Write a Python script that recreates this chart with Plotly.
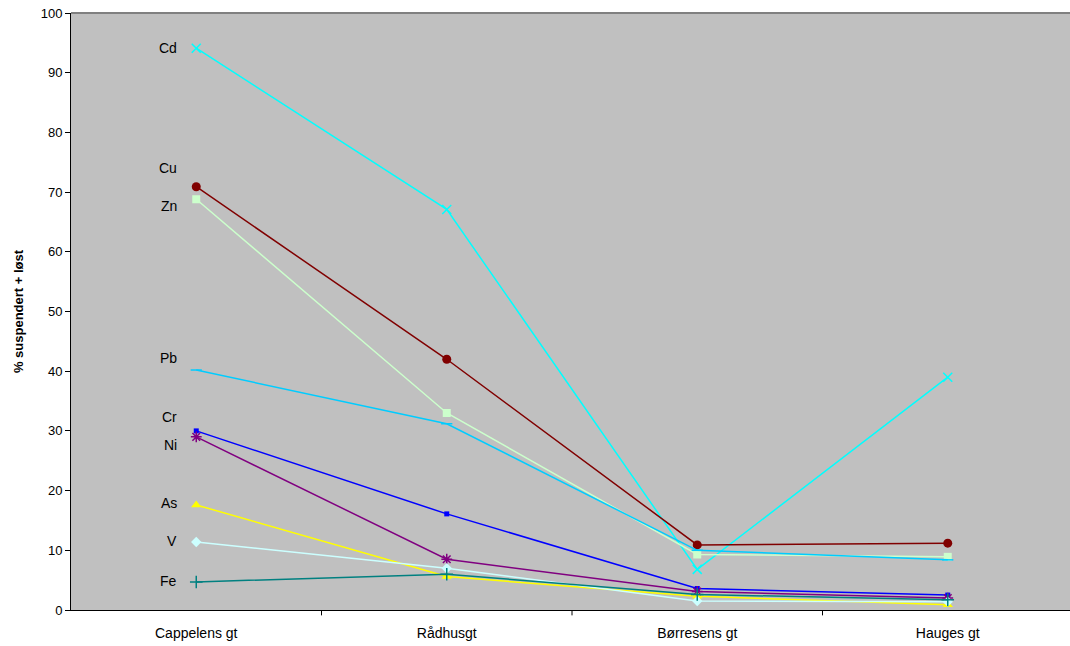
import plotly.graph_objects as go

categories = ["Cappelens gt", "Rådhusgt", "Børresens gt", "Hauges gt"]

cd = [94.1, 67.1, 6.8, 39.0]
cu = [70.9, 42.0, 10.9, 11.2]
zn = [68.8, 33.0, 9.3, 8.9]
pb = [40.2, 31.2, 10.0, 8.4]
cr = [30.0, 16.1, 3.6, 2.5]
ni = [29.0, 8.5, 3.1, 2.0]
as_ = [17.6, 5.6, 2.3, 0.9]
v = [11.4, 7.0, 1.5, 1.4]
fe = [4.7, 6.0, 2.6, 1.7]

series_names = ["Cd", "Cu", "Zn", "Pb", "Cr", "Ni", "As", "V", "Fe"]
series_values = [cd, cu, zn, pb, cr, ni, as_, v, fe]
label_y = [94.1, 74.0, 67.7, 42.2, 32.3, 27.6, 17.9, 11.6, 4.9]

colors = ["#00FFFF", "#800000", "#CCFFCC", "#00CCFF", "#0000FF",
          "#800080", "#FFFF00", "#CCFFFF", "#008080"]
symbols = ["x-thin", "circle", "square", "line-ew", "square",
           "asterisk", "triangle-up", "diamond", "cross-thin"]
sizes = [9, 9, 8, 8, 5, 9, 9, 8, 9]

fig = go.Figure()
for name, vals, col, sym, sz in zip(series_names, series_values, colors, symbols, sizes):
    open_sym = sym in ("x-thin", "asterisk", "cross-thin", "line-ew")
    fig.add_trace(go.Scatter(
        x=list(range(len(categories))), y=vals, mode="lines+markers", name=name,
        line=dict(color=col, width=1.5),
        marker=dict(symbol=sym, size=sz, color=col,
                    line=dict(color=col, width=1.5 if open_sym else 0)),
        showlegend=False,
    ))

for name, ly in zip(series_names, label_y):
    fig.add_annotation(x=-0.07, y=ly, xref="x", yref="y", text=name,
                       showarrow=False, xanchor="right", yanchor="middle",
                       font=dict(family="Liberation Sans, Arial", size=14, color="black"))

fig.update_layout(
    width=1073, height=646,
    margin=dict(l=71, r=0, t=13, b=36),
    paper_bgcolor="white", plot_bgcolor="#C0C0C0",
    font=dict(family="Liberation Sans, Arial", size=13, color="black"),
    shapes=[dict(type="line", xref="paper", yref="paper", x0=0, x1=1, y0=1, y1=1,
                 line=dict(color="#808080", width=2))],
)
fig.update_xaxes(
    range=[-0.5, 3.5], tickmode="array", tickvals=list(range(len(categories))),
    ticktext=categories, showgrid=False, zeroline=False,
    showline=True, linecolor="black", linewidth=1,
    ticks="", tickfont=dict(size=14), ticklabelstandoff=10,
)
# boundary ticks
for b in [0.5, 1.5, 2.5]:
    fig.add_shape(type="line", xref="x", yref="paper", x0=b, x1=b, y0=0, y1=-0.009,
                  line=dict(color="black", width=1))
fig.update_yaxes(
    range=[0, 100], dtick=10, showgrid=False, zeroline=False,
    showline=True, linecolor="black", linewidth=1,
    ticks="outside", ticklen=5, tickcolor="black", tickfont=dict(size=13),
    title=dict(text="<b>% suspendert + løst</b>", font=dict(size=13), standoff=14),
)

fig.write_html("out.html", config={"displayModeBar": False},
               post_script="document.body.style.margin='0';document.body.style.overflow='hidden';")
